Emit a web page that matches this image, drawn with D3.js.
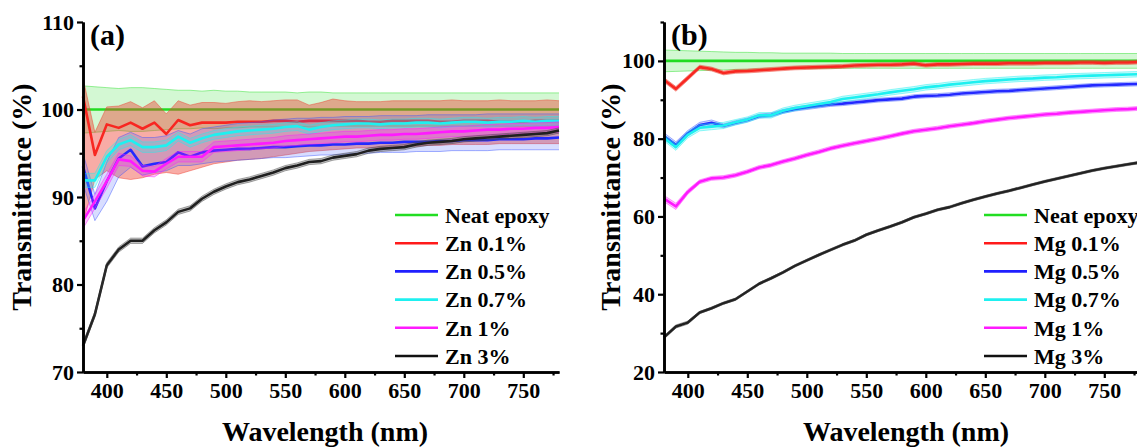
<!DOCTYPE html>
<html>
<head>
<meta charset="utf-8">
<script src="https://cdn.jsdelivr.net/npm/d3@7"></script>
<style>
  html, body { margin: 0; padding: 0; background: #fff; }
  svg { display: block; }
  text { font-family: "Liberation Serif", "Times New Roman", serif; font-weight: bold; fill: #000; }
</style>
</head>
<body>
<svg id="chart" width="1137" height="448"></svg>
<script>
// ---------------- DATA ----------------
const wavelength = [380,390,400,410,420,430,440,450,460,470,480,490,500,510,520,530,540,550,560,570,580,590,600,610,620,630,640,650,660,670,680,690,700,710,720,730,740,750,760,770,780];

// Panel (a) - Zn
const neatA = [100,100,100,100,100,100,100,100,100,100,100,100,100,100,100,100,100,100,100,100,100,100,100,100,100,100,100,100,100,100,100,100,100,100,100,100,100,100,100,100,100];
const neatA_sd = [2.7,2.6,2.5,2.4,2.5,2.5,2.4,2.3,2.2,2.2,2.1,2.2,2.1,2.1,2.0,2.0,2.0,2.0,1.9,2.0,2.0,1.9,1.9,1.9,1.9,1.9,1.9,1.9,1.9,1.9,1.9,1.9,1.9,1.9,1.9,1.9,1.9,1.9,1.9,1.9,1.9];

const zn01A = [101.5,94.8,98.3,97.9,98.5,97.8,98.5,97.2,98.8,98.2,98.5,98.5,98.5,98.6,98.6,98.6,98.7,98.7,98.6,98.7,98.7,98.7,98.7,98.7,98.6,98.6,98.7,98.7,98.7,98.7,98.6,98.6,98.7,98.7,98.7,98.6,98.6,98.6,98.7,98.7,98.7];
const zn01A_hi = [103.6,97.4,100.3,100.4,100.9,100.2,101.0,99.5,101.0,100.5,100.8,100.8,100.7,100.9,101.0,100.9,101.0,101.1,101.1,100.5,100.8,101.2,101.0,100.9,100.9,100.9,101.0,101.0,101.0,101.0,101.0,101.1,101.0,101.0,101.0,101.1,101.0,101.0,101.0,101.1,101.0];
const zn01A_lo = [87.0,92.0,93.0,92.2,92.0,92.2,92.6,92.8,92.6,93.0,93.4,93.8,94.0,94.2,94.3,94.4,94.6,94.8,95.0,95.2,95.3,95.4,95.5,95.6,95.6,95.7,95.7,95.8,95.8,95.9,95.9,96.0,96.0,96.0,96.0,96.1,96.1,96.1,96.1,96.1,96.1];

const zn05A = [93.5,88.7,91.8,94.4,95.4,93.5,93.8,94.0,95.1,94.6,95.1,95.3,95.4,95.5,95.5,95.6,95.7,95.7,95.8,95.9,95.9,96.0,96.0,96.1,96.1,96.2,96.2,96.3,96.3,96.3,96.4,96.4,96.5,96.5,96.5,96.6,96.6,96.6,96.7,96.7,96.8];
const zn05A_hi = [95.0,90.3,94.0,96.8,97.4,96.8,96.8,97.0,97.6,97.2,97.8,98.0,98.2,98.4,98.5,98.6,98.8,98.9,99.0,99.0,99.1,99.1,99.2,99.2,99.2,99.3,99.3,99.3,99.3,99.4,99.4,99.4,99.4,99.4,99.5,99.5,99.5,99.5,99.5,99.5,99.5];
const zn05A_lo = [91.5,87.3,89.5,92.3,93.4,92.5,92.8,93.0,93.6,93.6,93.8,94.0,94.1,94.2,94.3,94.4,94.5,94.5,94.6,94.7,94.8,94.8,94.9,95.0,95.0,95.1,95.1,95.1,95.2,95.2,95.2,95.3,95.3,95.3,95.3,95.4,95.4,95.4,95.4,95.4,95.4];

const zn07A = [91.9,91.9,94.6,96.0,96.5,95.7,95.7,95.9,96.9,96.2,96.7,97.1,97.3,97.5,97.6,97.7,97.8,98.0,98.1,97.7,98.0,98.2,98.3,98.4,98.4,98.3,98.4,98.4,98.5,98.5,98.4,98.5,98.6,98.6,98.5,98.6,98.6,98.7,98.6,98.7,98.7];
const zn07A_sd = [0.8,0.8,0.7,0.6,0.6,0.6,0.6,0.6,0.5,0.5,0.5,0.5,0.5,0.5,0.5,0.5,0.5,0.5,0.5,0.5,0.5,0.5,0.5,0.5,0.5,0.5,0.5,0.5,0.5,0.5,0.5,0.5,0.5,0.5,0.5,0.5,0.5,0.5,0.5,0.5,0.5];

const zn1A = [87.3,89.5,91.8,94.3,94.1,93.0,92.9,93.8,94.6,94.6,94.6,95.7,95.8,95.9,96.0,96.1,96.2,96.4,96.5,96.6,96.7,96.8,96.9,96.9,97.0,97.1,97.1,97.2,97.2,97.3,97.4,97.5,97.5,97.6,97.7,97.7,97.8,97.8,97.9,97.9,98.0];
const zn1A_sd = [0.9,0.8,0.8,0.7,0.6,0.6,0.6,0.6,0.6,0.6,0.6,0.6,0.6,0.6,0.6,0.6,0.6,0.6,0.6,0.6,0.6,0.6,0.6,0.6,0.6,0.6,0.6,0.6,0.6,0.6,0.6,0.6,0.6,0.6,0.6,0.6,0.6,0.6,0.6,0.6,0.6];

const zn3A = [73.0,76.6,82.2,84.0,85.0,85.0,86.2,87.1,88.3,88.7,89.8,90.6,91.2,91.7,92.0,92.4,92.8,93.3,93.6,94.0,94.1,94.5,94.7,94.9,95.3,95.5,95.6,95.7,96.0,96.2,96.3,96.4,96.6,96.7,96.8,96.9,97.0,97.1,97.2,97.3,97.6];
const zn3A_sd = [0.3,0.3,0.3,0.3,0.3,0.3,0.3,0.3,0.3,0.3,0.3,0.3,0.3,0.3,0.3,0.3,0.3,0.3,0.3,0.3,0.3,0.3,0.3,0.3,0.3,0.3,0.3,0.3,0.3,0.3,0.3,0.3,0.3,0.3,0.3,0.3,0.3,0.3,0.3,0.3,0.3];

// Panel (b) - Mg
const neatB = [100,100,100,100,100,100,100,100,100,100,100,100,100,100,100,100,100,100,100,100,100,100,100,100,100,100,100,100,100,100,100,100,100,100,100,100,100,100,100,100,100];
const neatB_sd = [2.8,2.7,2.6,2.5,2.4,2.3,2.2,2.2,2.1,2.1,2.0,2.0,2.0,2.0,2.0,1.9,1.9,1.9,1.9,1.9,1.9,1.9,1.9,1.9,1.9,1.9,1.9,1.9,1.9,1.9,1.9,1.9,1.9,1.9,1.9,1.9,1.9,1.9,1.9,1.9,1.9];

const mg01B = [95.1,92.8,95.6,98.4,97.9,96.9,97.3,97.4,97.6,97.8,98.0,98.2,98.3,98.4,98.5,98.6,98.8,98.9,99.0,99.0,99.1,99.3,98.9,99.1,99.1,99.2,99.3,99.3,99.3,99.4,99.4,99.4,99.5,99.5,99.5,99.6,99.6,99.5,99.6,99.6,99.7];
const mg01B_sd = [0.6,0.6,0.6,0.5,0.5,0.5,0.5,0.5,0.5,0.5,0.5,0.5,0.5,0.5,0.5,0.5,0.5,0.5,0.5,0.5,0.5,0.5,0.5,0.5,0.5,0.5,0.5,0.5,0.5,0.5,0.5,0.5,0.5,0.5,0.5,0.5,0.5,0.5,0.5,0.5,0.5];

const mg05B = [80.7,78.4,81.4,83.5,84.1,83.3,84.1,84.8,85.8,86.1,87.0,87.6,88.0,88.4,88.8,89.0,89.3,89.6,89.9,90.1,90.3,90.8,91.0,91.1,91.3,91.6,91.8,92.0,92.2,92.3,92.5,92.7,92.9,93.1,93.3,93.5,93.7,93.8,93.9,94.0,94.1];
const mg05B_sd = [0.8,0.8,0.7,0.7,0.7,0.5,0.5,0.5,0.5,0.5,0.5,0.5,0.5,0.5,0.5,0.5,0.5,0.5,0.5,0.5,0.5,0.5,0.5,0.5,0.5,0.5,0.5,0.5,0.5,0.5,0.5,0.5,0.5,0.5,0.5,0.5,0.5,0.5,0.5,0.5,0.5];

const mg07B = [80.2,77.8,81.0,82.8,83.1,83.4,84.2,84.9,86.0,86.0,87.2,87.9,88.4,88.9,89.4,90.2,90.6,91.0,91.4,91.9,92.3,92.7,93.2,93.5,93.9,94.2,94.5,94.8,95.0,95.2,95.4,95.5,95.7,95.8,96.0,96.1,96.2,96.3,96.4,96.5,96.6];
const mg07B_sd = [0.8,0.8,0.8,0.8,0.8,0.8,0.7,0.7,0.7,0.7,0.7,0.7,0.7,0.7,0.7,0.7,0.7,0.7,0.7,0.7,0.7,0.7,0.7,0.7,0.7,0.7,0.7,0.7,0.7,0.7,0.7,0.7,0.7,0.7,0.7,0.7,0.7,0.7,0.7,0.7,0.7];

const mg1B = [64.6,62.6,66.3,68.9,69.8,70.0,70.6,71.5,72.6,73.2,74.1,74.9,75.8,76.6,77.5,78.2,78.8,79.4,80.0,80.6,81.3,81.9,82.3,82.7,83.2,83.6,84.0,84.5,84.9,85.3,85.6,85.9,86.2,86.4,86.7,86.9,87.1,87.3,87.5,87.6,87.8];
const mg1B_sd = [0.8,0.8,0.6,0.5,0.5,0.5,0.5,0.5,0.5,0.5,0.5,0.5,0.5,0.5,0.5,0.5,0.5,0.5,0.5,0.5,0.5,0.5,0.5,0.5,0.5,0.5,0.5,0.5,0.5,0.5,0.5,0.5,0.5,0.5,0.5,0.5,0.5,0.5,0.5,0.5,0.5];

const mg3B = [28.9,31.7,32.7,35.3,36.4,37.7,38.7,40.7,42.7,44.1,45.6,47.3,48.7,50.1,51.4,52.7,53.8,55.3,56.4,57.4,58.5,59.8,60.7,61.7,62.4,63.4,64.3,65.1,65.9,66.6,67.4,68.2,69.0,69.7,70.4,71.1,71.8,72.4,72.9,73.4,73.9];
const mg3B_sd = [0.4,0.4,0.4,0.3,0.3,0.3,0.3,0.3,0.3,0.3,0.3,0.3,0.3,0.3,0.3,0.3,0.3,0.3,0.3,0.3,0.3,0.3,0.3,0.3,0.3,0.3,0.3,0.3,0.3,0.3,0.3,0.3,0.3,0.3,0.3,0.3,0.3,0.3,0.3,0.3,0.3];

// Labels / ticks
const seriesNamesA = ["Neat epoxy","Zn 0.1%","Zn 0.5%","Zn 0.7%","Zn 1%","Zn 3%"];
const seriesNamesB = ["Neat epoxy","Mg 0.1%","Mg 0.5%","Mg 0.7%","Mg 1%","Mg 3%"];
const xTicks = [400,450,500,550,600,650,700,750];
const xMinorTicks = [425,475,525,575,625,675,725,775];
const yTicksA = [70,80,90,100,110];
const yMinorTicksA = [75,85,95,105];
const yTicksB = [20,40,60,80,100];
const yMinorTicksB = [30,50,70,90,110];
const panelLabels = ["(a)","(b)"];
const xTitle = "Wavelength (nm)";
const yTitle = "Transmittance (%)";

// ---------------- STYLE ----------------
const colors = ["#22dd22","#ff1a1a","#1f1fff","#1ef0f0","#ff1aff","#111111"];
const bandOpacity = [0.2,0.42,0.2,0.25,0.25,0.3];
const bandColors = ["#22dd22","#ee3a2a","#3a55ff","#1ef0f0","#ff1aff","#444444"];

const svg = d3.select("#chart");

function drawPanel(cfg) {
  const g = svg.append("g");
  const x = d3.scaleLinear().domain([380,780]).range([cfg.left, cfg.left + 476]);
  const y = d3.scaleLinear().domain(cfg.yDomain).range([cfg.bottom, cfg.top]);

  cfg.series.forEach((s, i) => {
    const lo = s.lo || s.mean.map((m, k) => m - s.sd[k]);
    const hi = s.hi || s.mean.map((m, k) => m + s.sd[k]);
    const pts = wavelength.map((w, k) => ({w, m: s.mean[k], lo: lo[k], hi: hi[k]}));
    g.append("path").datum(pts)
      .attr("fill","none").attr("stroke", colors[i]).attr("stroke-width", 2.6)
      .attr("stroke-linejoin","round")
      .attr("d", d3.line().x(d => x(d.w)).y(d => y(d.m)));
    g.append("path").datum(pts)
      .attr("fill", bandColors[i]).attr("fill-opacity", bandOpacity[i]).attr("stroke","none")
      .attr("d", d3.area().x(d => x(d.w)).y0(d => y(d.lo)).y1(d => y(d.hi)));
    ["lo","hi"].forEach(key => {
      g.append("path").datum(pts)
        .attr("fill","none").attr("stroke", bandColors[i]).attr("stroke-opacity", 0.45)
        .attr("stroke-width", 1)
        .attr("d", d3.line().x(d => x(d.w)).y(d => y(d[key])));
    });
  });

  const xAxis = g.append("g").attr("transform", `translate(0,${cfg.bottom})`)
    .call(d3.axisBottom(x).tickValues(xTicks).tickSize(6).tickSizeOuter(0).tickPadding(4));
  const xMinor = g.append("g").attr("transform", `translate(0,${cfg.bottom})`)
    .call(d3.axisBottom(x).tickValues(xMinorTicks).tickSize(3.5).tickSizeOuter(0).tickFormat(""));
  const yAxis = g.append("g").attr("transform", `translate(${cfg.left},0)`)
    .call(d3.axisLeft(y).tickValues(cfg.yTicks).tickSize(6).tickSizeOuter(0).tickPadding(3));
  const yMinor = g.append("g").attr("transform", `translate(${cfg.left},0)`)
    .call(d3.axisLeft(y).tickValues(cfg.yMinor).tickSize(3.5).tickSizeOuter(0).tickFormat(""));
  [xAxis, xMinor, yAxis, yMinor].forEach(a => {
    a.select(".domain").attr("stroke","#000").attr("stroke-width",2.6);
    a.selectAll(".tick line").attr("stroke","#000").attr("stroke-width",2.2);
    a.selectAll(".tick text").style("font-family",'"Liberation Serif","Times New Roman",serif')
      .style("font-weight","bold").style("font-size","22px").attr("fill","#000");
  });

  g.append("text").attr("x", cfg.left + 242).attr("y", 441)
    .attr("text-anchor","middle").style("font-size","28px").text(xTitle);
  g.append("text").attr("transform", `translate(${cfg.yTitleX},${(cfg.top + cfg.bottom)/2}) rotate(-90)`)
    .attr("text-anchor","middle").attr("dy","0.35em").style("font-size","28px").text(yTitle);
  g.append("text").attr("x", cfg.left + 7).attr("y", 45).style("font-size","30px").text(cfg.label);

  const leg = g.append("g");
  cfg.names.forEach((n, i) => {
    const yy = 215 + i * 28.2;
    leg.append("line").attr("x1", cfg.legX).attr("x2", cfg.legX + 43)
      .attr("y1", yy).attr("y2", yy).attr("stroke", colors[i]).attr("stroke-width", 2.6);
    leg.append("text").attr("x", cfg.legX + 50).attr("y", yy).attr("dy","0.35em")
      .style("font-size","22px").text(n);
  });
}

drawPanel({
  left: 83, top: 22, bottom: 372, yDomain: [70,110], yTicks: yTicksA, yMinor: yMinorTicksA,
  yTitleX: 21, label: panelLabels[0], legX: 395, names: seriesNamesA,
  series: [
    {mean: neatA, sd: neatA_sd},
    {mean: zn01A, lo: zn01A_lo, hi: zn01A_hi},
    {mean: zn05A, lo: zn05A_lo, hi: zn05A_hi},
    {mean: zn07A, sd: zn07A_sd},
    {mean: zn1A, sd: zn1A_sd},
    {mean: zn3A, sd: zn3A_sd}
  ]
});

drawPanel({
  left: 664, top: 22, bottom: 372, yDomain: [20,110], yTicks: yTicksB, yMinor: yMinorTicksB,
  yTitleX: 610, label: panelLabels[1], legX: 984, names: seriesNamesB,
  series: [
    {mean: neatB, sd: neatB_sd},
    {mean: mg01B, sd: mg01B_sd},
    {mean: mg05B, sd: mg05B_sd},
    {mean: mg07B, sd: mg07B_sd},
    {mean: mg1B, sd: mg1B_sd},
    {mean: mg3B, sd: mg3B_sd}
  ]
});
</script>
</body>
</html>
